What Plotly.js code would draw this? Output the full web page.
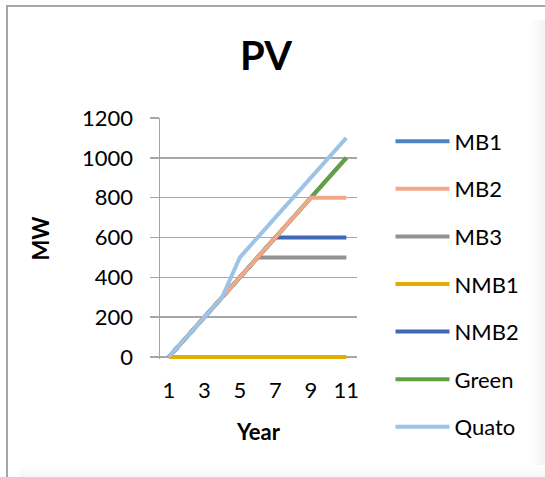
<!DOCTYPE html>
<html>
<head>
<meta charset="utf-8">
<script src="https://cdn.plot.ly/plotly-3.0.1.min.js"></script>
<style>
  html, body { margin: 0; padding: 0; background: #ffffff; }
  #wrap { position: relative; width: 545px; height: 477px; overflow: hidden; }
  #chart { position: absolute; left: 0; top: 0; width: 545px; height: 477px; }
  #frame { position: absolute; left: 6px; top: 5px; width: 560px; height: 490px;
           border-left: 2px solid #a6a6a6; border-top: 2px solid #a6a6a6; pointer-events: none; }
  #shadeR { position: absolute; left: 530px; top: 20px; width: 15px; height: 457px;
            background: linear-gradient(to right, #ffffff, #f3f3f3); pointer-events: none; }
  #shadeB { position: absolute; left: 20px; top: 465px; width: 525px; height: 12px;
            background: linear-gradient(to bottom, #ffffff, #f6f6f6); pointer-events: none; }
</style>
</head>
<body>
<div id="wrap">
  <div id="shadeR"></div>
  <div id="shadeB"></div>
  <div id="chart"></div>
  <div id="frame"></div>
</div>
<script>
const years = [1, 2, 3, 4, 5, 6, 7, 8, 9, 10, 11];
const MB1   = [0, 100, 200, 300, 400, 500, 600, 700, 800, 900, 1000];
const MB2   = [0, 100, 200, 300, 400, 500, 600, 700, 800, 800, 800];
const MB3   = [0, 100, 200, 300, 400, 500, 500, 500, 500, 500, 500];
const NMB1  = [0, 0, 0, 0, 0, 0, 0, 0, 0, 0, 0];
const NMB2  = [0, 100, 200, 300, 400, 500, 600, 600, 600, 600, 600];
const Green = [0, 100, 200, 300, 400, 500, 600, 700, 800, 900, 1000];
const Quato = [0, 100, 200, 300, 500, 600, 700, 800, 900, 1000, 1100];
const xTicks = [1, 3, 5, 7, 9, 11];
const yTicks = [0, 200, 400, 600, 800, 1000, 1200];

const FONT = 'Lato, "Open Sans", sans-serif';

function tr(name, y, color, rank) {
  return {
    x: years, y: y, name: name, type: 'scatter', mode: 'lines',
    line: { color: color, width: 4 },
    legendrank: rank, legendgroup: name, hoverinfo: 'skip'
  };
}

// drawing order (later on top); legend order set by legendrank
const data = [
  tr('MB1', MB1, '#4a86c5', 1),
  tr('MB3', MB3, '#929292', 3),
  tr('NMB2', NMB2, '#3f69b5', 5),
  tr('Green', Green, '#62a040', 6),
  tr('MB2', MB2, '#f2a888', 2),
  tr('NMB1', NMB1, '#e3ac00', 4),
  tr('Quato', Quato, '#9dc3e6', 7)
];

const layout = {
  width: 545, height: 477,
  margin: { l: 160, r: 188, t: 118, b: 118 },
  paper_bgcolor: 'rgba(0,0,0,0)',
  plot_bgcolor: 'rgba(0,0,0,0)',
  font: { family: FONT, size: 22, color: '#000000' },
  showlegend: true,
  title: {
    text: '<b>PV</b>', font: { family: FONT, size: 40, color: '#000000' },
    xref: 'container', yref: 'container', x: 0.488, y: 1 - 56 / 477,
    xanchor: 'center', yanchor: 'middle'
  },
  xaxis: {
    type: 'linear', range: [0.5, 11.6],
    tickmode: 'array', tickvals: xTicks, ticktext: xTicks.map(String),
    showgrid: false, zeroline: false, showline: false, ticks: '',
    ticklabelstandoff: 16,
    tickfont: { family: FONT, size: 22 },
    title: { text: '<b>Year</b>', font: { family: FONT, size: 22 }, standoff: 22 },
    automargin: false
  },
  yaxis: {
    range: [-10, 1200],
    tickmode: 'array', tickvals: yTicks, ticktext: yTicks.map(String),
    showgrid: true, gridcolor: '#a6a6a6', gridwidth: 1.5,
    zeroline: false,
    showline: true, linecolor: '#a6a6a6', linewidth: 1.5,
    ticks: 'outside', ticklen: 9, tickcolor: '#a6a6a6', tickwidth: 1.5,
    ticklabelstandoff: 12,
    tickfont: { family: FONT, size: 22 },
    title: { text: '<b>MW</b>', font: { family: FONT, size: 22 }, standoff: 26 },
    automargin: false
  },
  legend: {
    x: 1.17, xanchor: 'left', y: 0.99, yanchor: 'top',
    font: { family: FONT, size: 22 },
    bgcolor: 'rgba(0,0,0,0)', borderwidth: 0,
    itemwidth: 54, tracegroupgap: 16, traceorder: 'grouped',
    maxheight: 420,
    itemclick: false, itemdoubleclick: false
  }
};

Plotly.newPlot('chart', data, layout, { staticPlot: true, displayModeBar: false });
</script>
</body>
</html>
